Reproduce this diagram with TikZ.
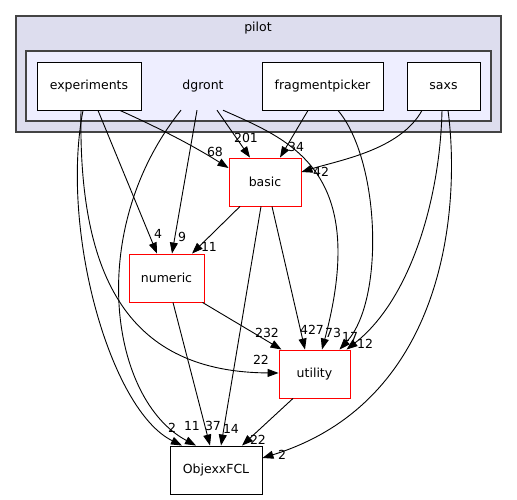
\documentclass[tikz,border=0pt]{standalone}
\usepackage{fontspec}
\setmainfont{DejaVu Sans}
\usepackage{tikz}
\usetikzlibrary{arrows.meta}
\usetikzlibrary{shapes}
\usetikzlibrary{positioning}
\definecolor{clusterouter}{HTML}{DDDDEE}
\definecolor{clusterinner}{HTML}{EEEEFF}
\definecolor{clusterline}{HTML}{444444}
\tikzstyle{tran}  = [
    draw,
    line width=0.9pt,
    -{Triangle[length=11pt,width=8pt]}
]
\tikzstyle{dir}  = [
    shape=rectangle,
    draw,
    fill=white,
    line width=0.9pt,
    inner sep=0pt,
    minimum height=48pt,
    font=\fontsize{12.5}{15}\selectfont
]
\tikzstyle{reddir}  = [
    dir,
    draw=red
]
\tikzstyle{cluster}  = [
    shape=rectangle,
    draw=clusterline,
    line width=1.3pt,
    inner sep=0pt
]
\tikzstyle{lbl}  = [
    inner sep=0pt,
    font=\fontsize{12.5}{15}\selectfont
]

\begin{document}
\begin{tikzpicture}[x = 1pt, y = -1pt]
\useasboundingbox (0,0) rectangle (517,500);
\node[cluster, fill=clusterouter, minimum width=485pt, minimum height=116pt] (pilot) at (258.5,74) {};
\node[lbl] (pilotname) at (258,28) {pilot};
\node[cluster, fill=clusterinner, minimum width=465pt, minimum height=70pt] (dgrontbox) at (258.5,86) {};
\node[lbl, minimum width=60pt, minimum height=48pt] (dgront) at (203,86) {dgront};
\node[dir, minimum width=104pt] (experiments)    at (89,86)    {experiments};
\node[dir, minimum width=121pt] (fragmentpicker) at (322.5,86) {fragmentpicker};
\node[dir, minimum width=73pt]  (saxs)           at (443.5,86) {saxs};
\node[reddir, minimum width=72pt] (basic)   at (265,182)   {basic};
\node[reddir, minimum width=75pt] (numeric) at (166.5,278) {numeric};
\node[reddir, minimum width=71pt] (utility) at (314.5,374) {utility};
\node[dir, minimum width=92pt] (objexx) at (216,470) {ObjexxFCL};

\draw[tran] ([xshift=31pt]experiments.south) .. controls (170,133) and (200,150) .. ([yshift=14pt]basic.west);
\draw[tran] ([xshift=9pt]experiments.south) -- ([xshift=-9.5pt]numeric.north);
\draw[tran] ([xshift=-8pt]experiments.south) .. controls (78,280) and (130,372) .. ([yshift=1pt]utility.west);
\draw[tran] ([xshift=-6pt]experiments.south) .. controls (60,230) and (110,410) .. ([xshift=-34pt]objexx.north);

\draw[tran] ([xshift=-22pt]dgront.south) .. controls (85,230) and (110,400) .. ([xshift=-20pt]objexx.north);
\draw[tran] ([xshift=-6pt]dgront.south) -- ([xshift=5.5pt]numeric.north);
\draw[tran] ([xshift=14pt]dgront.south) -- ([xshift=-15pt]basic.north);
\draw[tran] ([xshift=20pt]dgront.south) .. controls (290,140) and (370,170) .. ([xshift=7.5pt]utility.north);

\draw[tran] ([xshift=-14.5pt]fragmentpicker.south) -- ([xshift=15pt]basic.north);
\draw[tran] ([xshift=15.5pt]fragmentpicker.south) .. controls (380,160) and (385,300) .. ([xshift=25pt]utility.north);

\draw[tran] ([xshift=-21.5pt]saxs.south) .. controls (400,150) and (340,160) .. ([yshift=10pt]basic.east);
\draw[tran] ([xshift=-1.5pt]saxs.south) .. controls (440,200) and (410,300) .. ([xshift=32pt]utility.north);
\draw[tran] ([xshift=4.5pt]saxs.south) .. controls (460,200) and (450,400) .. ([yshift=12pt]objexx.east);

\draw[tran] ([xshift=-25pt]basic.south) -- ([xshift=25.5pt]numeric.north);
\draw[tran] ([xshift=7pt]basic.south) -- ([xshift=-9.5pt]utility.north);
\draw[tran] ([xshift=-4pt]basic.south) -- ([xshift=5pt]objexx.north);

\draw[tran] ([xshift=36pt]numeric.south) -- ([xshift=-33pt]utility.north);
\draw[tran] ([xshift=6.5pt]numeric.south) -- ([xshift=-6pt]objexx.north);

\draw[tran] ([xshift=-21.5pt]utility.south) -- ([xshift=26pt]objexx.north);

\node[lbl] (l68)  at (215,152) {68};
\node[lbl] (l201) at (246,138) {201};
\node[lbl] (l34)  at (296,147) {34};
\node[lbl] (l42)  at (321,172) {42};
\node[lbl] (l4)   at (158,234) {4};
\node[lbl] (l9)   at (182,237) {9};
\node[lbl] (l11n) at (209,247) {11};
\node[lbl] (l232) at (267,333) {232};
\node[lbl] (l22u) at (261,360) {22};
\node[lbl] (l427) at (312,330) {427};
\node[lbl] (l73)  at (333,333) {73};
\node[lbl] (l17)  at (350,337) {17};
\node[lbl] (l12)  at (365,344) {12};
\node[lbl] (l2e)  at (172,428) {2};
\node[lbl] (l11o) at (192,426) {11};
\node[lbl] (l37)  at (213,426) {37};
\node[lbl] (l14)  at (231,429) {14};
\node[lbl] (l22o) at (258,440) {22};
\node[lbl] (l2s)  at (282,455) {2};
\end{tikzpicture}
\end{document}
